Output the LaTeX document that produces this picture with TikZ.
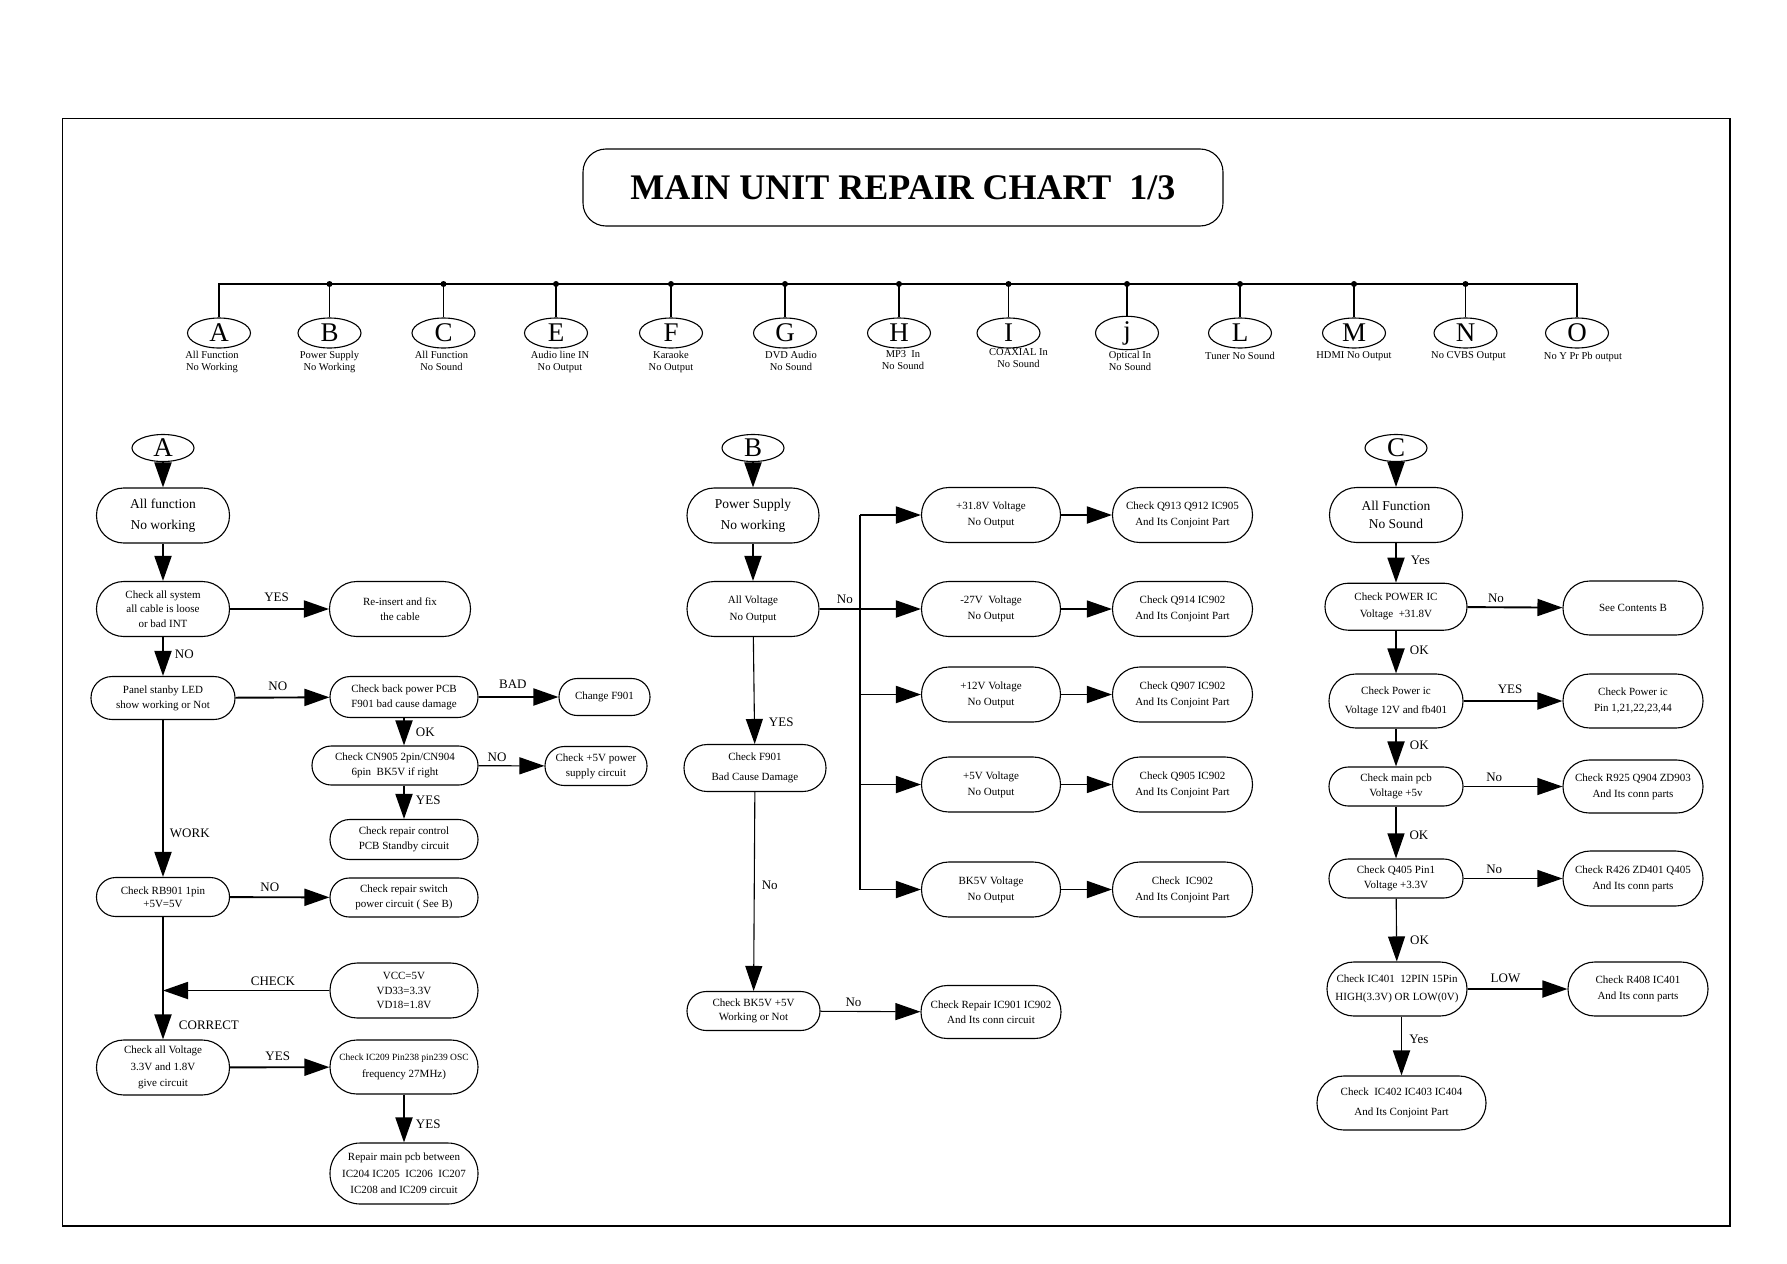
\documentclass[tikz,border=0pt]{standalone}
\usepackage{fontspec}
\setmainfont{Liberation Serif}
\usetikzlibrary{arrows.meta,positioning,shapes.geometric}

\begin{document}
\begin{tikzpicture}[x=1pt,y=-1pt,>={Triangle[length=25pt,width=17pt]},
    oval/.style={draw,ellipse,line width=1.1pt,inner sep=0pt,minimum width=62pt,minimum height=27pt,font=\fontsize{27}{27}\selectfont},
    box/.style 2 args={draw,rectangle,rounded corners=#2/2-0.3pt,line width=1.1pt,align=center,inner sep=0pt,minimum width=#1,minimum height=#2,font=\fontsize{11}{15}\selectfont},
    bigtxt/.style={font=\fontsize{13.5}{21}\selectfont},
    tag/.style={inner sep=2pt,font=\fontsize{13}{13}\selectfont},
    subtxt/.style={align=center,inner sep=0pt,font=\fontsize{10.5}{12}\selectfont},
    thick arrow/.style={->,line width=1.9pt},
    thin arrow/.style={->,line width=1.1pt}]
  \useasboundingbox (0,0) rectangle (1787,1263);
  \draw[line width=1.1pt] (62.7,118.5) rectangle (1730,1226);

  % title
  \node[draw,rounded corners=23pt,line width=1.1pt,minimum width=640pt,minimum height=77pt,font=\fontsize{36}{36}\selectfont\bfseries] (title) at (903,187.5) {MAIN UNIT REPAIR CHART\ \ 1/3};

  % top row
  \node[oval,minimum width=63pt,minimum height=30pt] (hA) at (219,333) {A};
  \node[oval,minimum width=63pt,minimum height=30pt] (hB) at (329.5,333) {B};
  \node[oval,minimum width=63pt,minimum height=30pt] (hC) at (443.5,333) {C};
  \node[oval,minimum width=63pt,minimum height=30pt] (hE) at (556,333) {E};
  \node[oval,minimum width=63pt,minimum height=30pt] (hF) at (671,333) {F};
  \node[oval,minimum width=63pt,minimum height=30pt] (hG) at (785,333) {G};
  \node[oval,minimum width=63pt,minimum height=30pt] (hH) at (899,333) {H};
  \node[oval,minimum width=63pt,minimum height=30pt] (hI) at (1008.5,333) {I};
  \node[oval,minimum width=63pt,minimum height=30pt] (hJ) at (1127,333) {j};
  \node[oval,minimum width=63pt,minimum height=30pt] (hL) at (1240,333) {L};
  \node[oval,minimum width=63pt,minimum height=30pt] (hM) at (1354,333) {M};
  \node[oval,minimum width=63pt,minimum height=30pt] (hN) at (1465.5,333) {N};
  \node[oval,minimum width=63pt,minimum height=30pt] (hO) at (1577,333) {O};
  \node[subtxt,below=2pt of hA,xshift=-7pt] (tA) {All Function\\No Working};
  \node[subtxt,below=2pt of hB] (tB) {Power Supply\\No Working};
  \node[subtxt,below=2pt of hC,xshift=-2pt] (tC) {All Function\\No Sound};
  \node[subtxt,below=2pt of hE,xshift=4pt] (tE) {Audio line IN\\No Output};
  \node[subtxt,below=2pt of hF] (tF) {Karaoke\\No Output};
  \node[subtxt,below=2pt of hG,xshift=6pt] (tG) {DVD Audio\\No Sound};
  \node[subtxt,below=2pt of hH,xshift=4pt] (tH) {MP3\ \ In\\No Sound};
  \node[subtxt,below=0pt of hI,xshift=10pt] (tI) {COAXIAL In\\No Sound};
  \node[subtxt,below=1pt of hJ,xshift=3pt] (tJ) {Optical In\\No Sound};
  \node[subtxt,below=3pt of hL] (tL) {Tuner No Sound};
  \node[subtxt,below=3pt of hM] (tM) {HDMI No Output};
  \node[subtxt,below=3pt of hN,xshift=3pt] (tN) {No CVBS Output};
  \node[subtxt,below=3pt of hO,xshift=6pt] (tO) {No Y Pr Pb output};
  \coordinate (barL) at (219,284);
  \coordinate (barR) at (1577,284);
  \draw[line width=1.1pt] (hA.north) -- (barL) -- (barR) -- (hO.north);
  \draw[line width=1.1pt] (hB.north) -- (hB.north |- barL);
  \draw[line width=1.1pt] (hC.north) -- (hC.north |- barL);
  \draw[line width=1.1pt] (hE.north) -- (hE.north |- barL);
  \draw[line width=1.9pt] (hF.north) -- (hF.north |- barL);
  \draw[line width=1.1pt] (hG.north) -- (hG.north |- barL);
  \draw[line width=1.9pt] (hH.north) -- (hH.north |- barL);
  \draw[line width=1.9pt] (hI.north) -- (hI.north |- barL);
  \draw[line width=1.1pt] (hJ.north) -- (hJ.north |- barL);
  \draw[line width=1.9pt] (hL.north) -- (hL.north |- barL);
  \draw[line width=1.1pt] (hM.north) -- (hM.north |- barL);
  \draw[line width=1.9pt] (hN.north) -- (hN.north |- barL);
  \draw[line width=1.9pt] (hO.north) -- (hO.north |- barR);
  \fill (hB.north |- barL) circle (3pt) (hC.north |- barL) circle (3pt) (hE.north |- barL) circle (3pt)
        (hF.north |- barL) circle (3pt) (hG.north |- barL) circle (3pt) (hH.north |- barL) circle (3pt)
        (hI.north |- barL) circle (3pt) (hJ.north |- barL) circle (3pt) (hL.north |- barL) circle (3pt)
        (hM.north |- barL) circle (3pt) (hN.north |- barL) circle (3pt);

  % chart A
  \node[oval] (eA) at (163,448) {A};
  \node[box={133pt}{55pt},bigtxt] (a1) at (163,515.5) {All function\\No working};
  \node[box={133pt}{55pt},font=\fontsize{11}{14.5}\selectfont] (a2) at (163,609) {Check all system\\all cable is loose\\or bad INT};
  \node[box={141pt}{55pt}] (a3) at (400,609) {Re-insert and fix\\the cable};
  \node[box={144pt}{43pt}] (a4) at (163,698) {Panel stanby LED\\show working or Not};
  \node[box={148pt}{41pt}] (a5) at (404,697) {Check back power PCB\\F901 bad cause damage};
  \node[box={91pt}{37pt}] (a6) at (604.5,697) {Change F901};
  \node[box={166pt}{39pt}] (a7) at (395,765.5) {Check CN905 2pin/CN904\\6pin\ \ BK5V if right};
  \node[box={102pt}{39pt}] (a8) at (596,766) {Check +5V power\\supply circuit};
  \node[box={148pt}{40pt}] (a9) at (404,839.5) {Check repair control\\PCB Standby circuit};
  \node[box={133pt}{39pt},font=\fontsize{11}{13}\selectfont] (a10) at (163,897) {Check RB901 1pin\\+5V=5V};
  \node[box={148pt}{39pt}] (a11) at (404,897.5) {Check repair switch\\power circuit ( See B)};
  \node[box={148pt}{55pt},font=\fontsize{11}{14.3}\selectfont] (a12) at (404,990.5) {VCC=5V\\VD33=3.3V\\VD18=1.8V};
  \node[box={133pt}{55pt},font=\fontsize{11}{16.5}\selectfont] (a13) at (163,1067.5) {Check all Voltage\\3.3V and 1.8V\\give circuit};
  \node[box={148pt}{54pt},font=\fontsize{11}{16.7}\selectfont] (a14) at (404,1067) {{\fontsize{9.5}{11}\selectfont Check IC209 Pin238 pin239 OSC}\\frequency 27MHz)};
  \node[box={148pt}{61pt},font=\fontsize{11}{16.3}\selectfont] (a15) at (404,1173.5) {Repair main pcb between\\IC204 IC205\ \ IC206\ \ IC207\\IC208 and IC209 circuit};
  \draw[thick arrow] (eA) -- (a1);
  \draw[thick arrow] (a1) -- (a2);
  \draw[thick arrow] (a2) -- node[tag,above=4pt,pos=.47] (yA1) {YES} (a3);
  \draw[thick arrow] (a2) -- node[tag,right=9pt,pos=.45] (nA1) {NO} (a4);
  \draw[thick arrow] (a4) -- node[tag,above=4pt,pos=.45] (nA2) {NO} (a5);
  \draw[thick arrow] (a5) -- node[tag,above=6pt,pos=.43] (bA1) {BAD} (a6);
  \draw[thick arrow] (a5.south) -- node[tag,right=9pt,pos=.5] (oA1) {OK} (a5.south |- a7.north);
  \draw[thin arrow] (a7) -- node[tag,above=2pt,pos=.28] (nA3) {NO} (a8);
  \draw[thick arrow] (a9.north |- a7.south) -- node[tag,right=9pt,pos=.45] (yA2) {YES} (a9);
  \draw[thick arrow] (a4) -- node[tag,right=4pt,pos=.72] (wA1) {WORK} (a10);
  \draw[thick arrow] (a10) -- node[tag,above=3pt,pos=.4] (nA4) {NO} (a11);
  \draw[thick arrow] (a10) -- node[tag,right=13pt,pos=.88] (cA1) {CORRECT} (a13);
  \draw[thick arrow] (a12) -- node[tag,above=2pt,pos=.34] (kA1) {CHECK} (a12 -| a10);
  \draw[thick arrow] (a13) -- node[tag,above=4pt,pos=.48] (yA3) {YES} (a14);
  \draw[thick arrow] (a14) -- node[tag,right=9pt,pos=.62] (yA4) {YES} (a15);

  % chart B
  \node[oval] (eB) at (753,448) {B};
  \node[box={132pt}{55pt},bigtxt] (b1) at (753,515.5) {Power Supply\\No working};
  \node[box={132pt}{55pt},font=\fontsize{11}{17}\selectfont] (b2) at (753,609) {All Voltage\\No Output};
  \node[box={142pt}{47pt},font=\fontsize{11}{20}\selectfont] (b3) at (755,768) {Check F901\\Bad Cause Damage};
  \node[box={133pt}{39pt},font=\fontsize{11}{14}\selectfont] (b4) at (753.5,1011) {Check BK5V +5V\\Working or Not};
  \node[box={140pt}{53pt}] (b5) at (991,1012) {Check Repair IC901 IC902\\And Its conn circuit};
  \node[box={139pt}{55pt},font=\fontsize{11}{16}\selectfont] (v1) at (991,515) {+31.8V Voltage\\No Output};
  \node[box={139pt}{55pt},font=\fontsize{11}{16}\selectfont] (v2) at (991,609) {-27V\ \ Voltage\\No Output};
  \node[box={139pt}{55pt},font=\fontsize{11}{16}\selectfont] (v3) at (991,694.5) {+12V Voltage\\No Output};
  \node[box={139pt}{55pt},font=\fontsize{11}{16}\selectfont] (v4) at (991,784.5) {+5V Voltage\\No Output};
  \node[box={139pt}{55pt},font=\fontsize{11}{16}\selectfont] (v5) at (991,889.5) {BK5V Voltage\\No Output};
  \node[box={140pt}{55pt},font=\fontsize{11}{16}\selectfont] (k1) at (1182.5,515) {Check Q913 Q912 IC905\\And Its Conjoint Part};
  \node[box={140pt}{55pt},font=\fontsize{11}{16}\selectfont] (k2) at (1182.5,609) {Check Q914 IC902\\And Its Conjoint Part};
  \node[box={140pt}{55pt},font=\fontsize{11}{16}\selectfont] (k3) at (1182.5,694.5) {Check Q907 IC902\\And Its Conjoint Part};
  \node[box={140pt}{55pt},font=\fontsize{11}{16}\selectfont] (k4) at (1182.5,784.5) {Check Q905 IC902\\And Its Conjoint Part};
  \node[box={140pt}{55pt},font=\fontsize{11}{16}\selectfont] (k5) at (1182.5,889.5) {Check\ \ IC902\\And Its Conjoint Part};
  \coordinate (bus) at (860,609);
  \draw[thick arrow] (eB) -- (b1);
  \draw[thick arrow] (b1) -- (b2);
  \draw[thick arrow] (b2) -- node[tag,above=2pt,pos=.25] (nB1) {No} (v2);
  \draw[line width=1.9pt] (bus |- v1) -- (bus |- v5);
  \draw[thick arrow] (bus |- v1) -- (v1);
  \draw[thick arrow] (bus |- v3) -- (v3);
  \draw[thick arrow] (bus |- v4) -- (v4);
  \draw[thick arrow] (bus |- v5) -- (v5);
  \draw[thick arrow] (v1) -- (k1);
  \draw[thin arrow] (v2) -- (k2);
  \draw[thick arrow] (v3) -- (k3);
  \draw[thin arrow] (v4) -- (k4);
  \draw[thick arrow] (v5) -- (k5);
  \draw[thin arrow] (b2) -- node[tag,right=12pt,pos=.8] (yB1) {YES} (b3);
  \draw[thin arrow] (b3) -- node[tag,right=5pt,pos=.47] (nB2) {No} (b4);
  \draw[thin arrow] (b4) -- node[tag,above=2pt,pos=.33] (nB3) {No} (b5);

  % chart C
  \node[oval] (eC) at (1396,448) {C};
  \node[box={133pt}{55pt},font=\fontsize{13.5}{18.5}\selectfont] (c1) at (1396,515) {All Function\\No Sound};
  \node[box={142pt}{47pt},font=\fontsize{11}{17}\selectfont] (c2) at (1396,606.7) {Check POWER IC\\Voltage\ \ +31.8V};
  \node[box={140pt}{54pt}] (c3) at (1633,608) {See Contents B};
  \node[box={134pt}{54pt},font=\fontsize{11}{19}\selectfont] (c4) at (1396,701) {Check Power ic\\Voltage 12V and fb401};
  \node[box={140pt}{54pt},font=\fontsize{11}{16}\selectfont] (c5) at (1633,701) {Check Power ic\\Pin 1,21,22,23,44};
  \node[box={134pt}{39pt},font=\fontsize{11}{15}\selectfont] (c6) at (1396,786.5) {Check main pcb\\Voltage +5v};
  \node[box={140pt}{53pt},font=\fontsize{11}{16}\selectfont] (c7) at (1633,786.5) {Check R925 Q904 ZD903\\And Its conn parts};
  \node[box={134pt}{39pt},font=\fontsize{11}{14.3}\selectfont] (c8) at (1396,878.5) {Check Q405 Pin1\\Voltage +3.3V};
  \node[box={140pt}{55pt},font=\fontsize{11}{16}\selectfont] (c9) at (1633,878.5) {Check R426 ZD401 Q405\\And Its conn parts};
  \node[box={140pt}{54pt},font=\fontsize{11}{17.7}\selectfont] (c10) at (1397,989) {Check IC401\ \ 12PIN 15Pin\\HIGH(3.3V) OR LOW(0V)};
  \node[box={140pt}{54pt},font=\fontsize{11}{16}\selectfont] (c11) at (1638,989) {Check R408 IC401\\And Its conn parts};
  \node[box={169pt}{54pt},font=\fontsize{11}{20}\selectfont] (c12) at (1401.5,1103) {Check\ \ IC402 IC403 IC404\\And Its Conjoint Part};
  \draw[thick arrow] (eC) -- (c1);
  \draw[thick arrow] (c1) -- node[tag,right=12pt,pos=.43] (yC1) {Yes} (c2);
  \draw[thick arrow] (c2) -- node[tag,above=2pt,pos=.3] (nC1) {No} (c3);
  \draw[thick arrow] (c2) -- node[tag,right=11pt,pos=.45] (oC1) {OK} (c4);
  \draw[thick arrow] (c4) -- node[tag,above=4pt,pos=.47] (yC2) {YES} (c5);
  \draw[thick arrow] (c4) -- node[tag,right=11pt,pos=.44] (oC2) {OK} (c6);
  \draw[thin arrow] (c6) -- node[tag,above=2pt,pos=.31] (nC2) {No} (c7);
  \draw[thin arrow] (c6) -- node[tag,right=11pt,pos=.55] (oC3) {OK} (c8);
  \draw[thin arrow] (c8) -- node[tag,above=2pt,pos=.31] (nC3) {No} (c9);
  \draw[thin arrow] (c8) -- node[tag,right=11pt,pos=.66] (oC4) {OK} (c10);
  \draw[thick arrow] (c10) -- node[tag,above=3pt,pos=.38] (lC1) {LOW} (c11);
  \draw[thick arrow] (c10.south -| c12) -- node[tag,right=5pt,pos=.38] (yC3) {Yes} (c12);
\end{tikzpicture}
\end{document}
